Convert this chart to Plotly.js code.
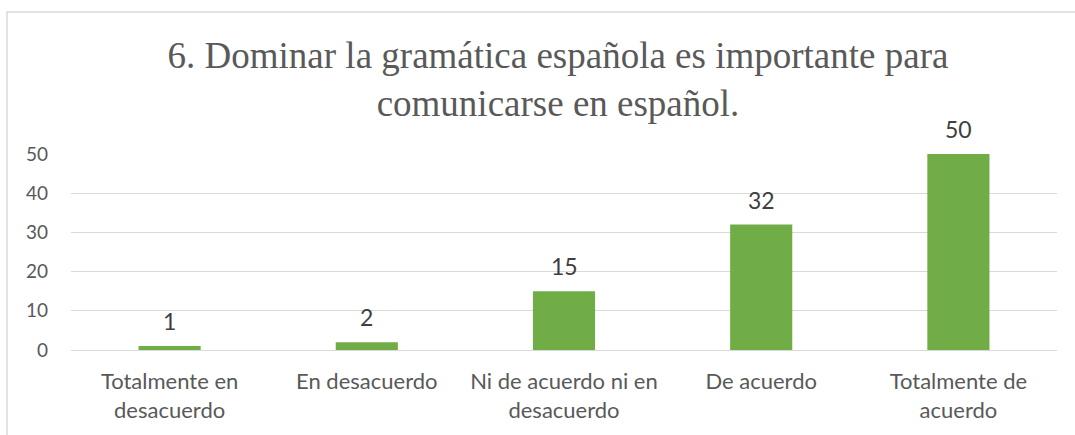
<!DOCTYPE html>
<html>
<head>
<meta charset="utf-8">
<script src="https://cdn.plot.ly/plotly-3.0.1.min.js"></script>
<style>html,body{margin:0;padding:0;background:#fff;}#chart{width:1075px;height:435px;}</style>
</head>
<body>
<div id="chart"></div>
<script>
var categories = ["Totalmente en<br>desacuerdo", "En desacuerdo", "Ni de acuerdo ni en<br>desacuerdo", "De acuerdo", "Totalmente de<br>acuerdo"];
var values = [1, 2, 15, 32, 50];
var yTicks = [0, 10, 20, 30, 40, 50];
var titleText = "6. Dominar la gramática española es importante para<br>comunicarse en español.";

var labelFont = "Lato";

var trace = {
  type: "bar",
  x: categories,
  y: values,
  marker: {color: "#70AD47"},
  hoverinfo: "x+y"
};

var annotations = values.map(function(v, i){
  return {
    x: categories[i], y: v, xref: "x", yref: "y",
    text: String(v), showarrow: false,
    yanchor: "middle", yshift: 25,
    font: {family: labelFont, size: 23, color: "#404040"}
  };
});

var layout = {
  width: 1075, height: 435,
  margin: {l: 71, r: 18, t: 154, b: 85},
  paper_bgcolor: "#fff", plot_bgcolor: "#fff",
  showlegend: false,
  bargap: 0.685,
  title: {
    text: titleText,
    font: {family: "Times New Roman, Liberation Serif, DejaVu Serif, serif", size: 37, color: "#595959"},
    x: 558/1075, xanchor: "center", xref: "container",
    y: 1 - 68/435, yanchor: "middle", yref: "container"
  },
  xaxis: {
    type: "category",
    showgrid: false, zeroline: false,
    showline: true, linecolor: "#D9D9D9", linewidth: 1,
    tickfont: {family: labelFont, size: 22, color: "#595959"},
    ticks: "", ticklabelstandoff: 12
  },
  yaxis: {
    range: [0, 50],
    tickvals: yTicks,
    showgrid: true, gridcolor: "#D9D9D9", gridwidth: 1,
    zeroline: false, showline: false,
    tickfont: {family: labelFont, size: 19, color: "#595959"},
    ticks: "", ticklabelstandoff: 22
  },
  annotations: annotations,
  shapes: [{
    type: "rect", xref: "paper", yref: "paper",
    x0: (7 - 71) / 986, x1: 1.2, y0: -1, y1: (350 - 12) / 196,
    line: {color: "#D9D9D9", width: 1.5}, fillcolor: "rgba(0,0,0,0)", layer: "below"
  }]
};

Plotly.newPlot("chart", [trace], layout, {displayModeBar: false, staticPlot: true});
</script>
</body>
</html>
